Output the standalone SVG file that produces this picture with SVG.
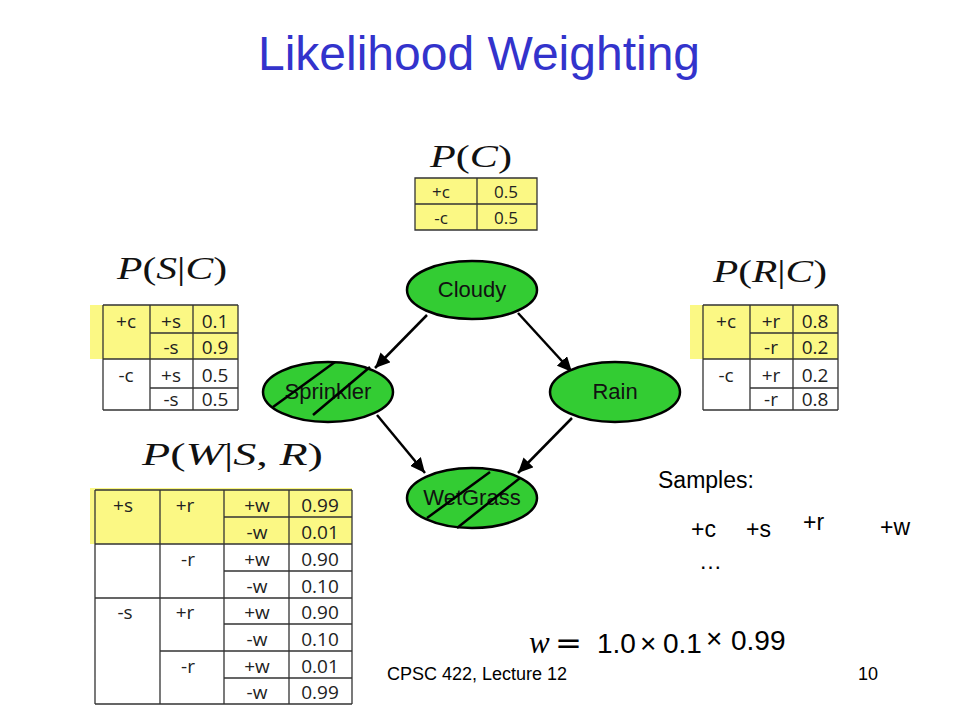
<svg xmlns="http://www.w3.org/2000/svg" width="960" height="720" viewBox="0 0 960 720">
<style>
.title{font-family:"Liberation Sans",Arial,sans-serif;font-size:48px;fill:#3333CC}
.math{font-family:"Liberation Serif","Times New Roman",serif;font-size:31px;fill:#111}
.it{font-style:italic}
.t{font-family:"Open Sans","Noto Sans",sans-serif;font-size:19px;fill:#222;text-anchor:middle}
.tc{font-family:"Open Sans","Noto Sans",sans-serif;font-size:17px;fill:#222;text-anchor:middle}
.yl{fill:#FBF884}
.gl{stroke:#333;stroke-width:1.3;fill:none}
.node ellipse{fill:#33CC33;stroke:#000;stroke-width:2.5}
.node line{stroke:#000;stroke-width:2.5}
.lbl{font-family:"Liberation Sans",Arial,sans-serif;font-size:22px;fill:#111;text-anchor:middle}
.txt{font-family:"Liberation Sans",Arial,sans-serif;fill:#000}
.edge{stroke:#000;stroke-width:2.5;fill:none;marker-end:url(#ah)}
</style>
<defs>
<marker id="ah" markerUnits="userSpaceOnUse" markerWidth="16" markerHeight="14" refX="15" refY="7" orient="auto">
<path d="M0,0 L15,7 L0,14 z" fill="#000"/>
</marker>
</defs>
<rect width="960" height="720" fill="#fff"/>
<text class="title" x="479" y="70" text-anchor="middle">Likelihood Weighting</text>

<!-- P(C) -->
<g id="tableC">
<text class="math" x="430" y="167" textLength="82" lengthAdjust="spacingAndGlyphs"><tspan class="it">P</tspan>(<tspan class="it">C</tspan>)</text>
<rect class="yl" x="415" y="178" width="122" height="52"/>
<path class="gl" d="M415,178H537V230H415Z M477,178V230 M415,204H537"/>
<text class="tc" x="441" y="198">+c</text><text class="tc" x="506" y="198">0.5</text>
<text class="tc" x="441" y="224">-c</text><text class="tc" x="506" y="224">0.5</text>
</g>

<!-- P(S|C) -->
<g id="tableS">
<text class="math" x="117" y="279" textLength="110" lengthAdjust="spacingAndGlyphs"><tspan class="it">P</tspan>(<tspan class="it">S</tspan>|<tspan class="it">C</tspan>)</text>
<rect class="yl" x="90" y="305" width="148" height="54"/>
<path class="gl" d="M103,305V410 M150,305V410 M193,305V410 M238,305V410 M103,305H238 M150,333H238 M103,359H238 M150,388H238 M103,410H238"/>
<text class="t" x="126" y="328">+c</text><text class="t" x="171" y="328">+s</text><text class="t" x="215" y="328">0.1</text>
<text class="t" x="171" y="354">-s</text><text class="t" x="215" y="354">0.9</text>
<text class="t" x="126" y="382">-c</text><text class="t" x="171" y="382">+s</text><text class="t" x="215" y="382">0.5</text>
<text class="t" x="171" y="406">-s</text><text class="t" x="215" y="406">0.5</text>
</g>

<!-- P(R|C) -->
<g id="tableR">
<text class="math" x="713" y="282" textLength="114" lengthAdjust="spacingAndGlyphs"><tspan class="it">P</tspan>(<tspan class="it">R</tspan>|<tspan class="it">C</tspan>)</text>
<rect class="yl" x="690" y="305" width="148" height="54"/>
<path class="gl" d="M703,305V410 M750,305V410 M793,305V410 M838,305V410 M703,305H838 M750,333H838 M703,359H838 M750,388H838 M703,410H838"/>
<text class="t" x="726" y="328">+c</text><text class="t" x="771" y="328">+r</text><text class="t" x="815" y="328">0.8</text>
<text class="t" x="771" y="354">-r</text><text class="t" x="815" y="354">0.2</text>
<text class="t" x="726" y="382">-c</text><text class="t" x="771" y="382">+r</text><text class="t" x="815" y="382">0.2</text>
<text class="t" x="771" y="406">-r</text><text class="t" x="815" y="406">0.8</text>
</g>

<!-- P(W|S,R) -->
<g id="tableW">
<text class="math" x="142" y="465" textLength="181" lengthAdjust="spacingAndGlyphs"><tspan class="it">P</tspan>(<tspan class="it">W</tspan>|<tspan class="it">S</tspan>, <tspan class="it">R</tspan>)</text>
<rect class="yl" x="90" y="488" width="262" height="56"/>
<path class="gl" d="M95,490V704 M160,490V704 M224,490V704 M289,490V704 M352,490V704 M95,490H352 M224,517H352 M95,544H352 M224,571H352 M95,598H352 M224,624H352 M160,651H352 M224,678H352 M95,704H352"/>
<text class="t" x="123" y="512">+s</text><text class="t" x="185" y="512">+r</text><text class="t" x="257" y="512">+w</text><text class="t" x="320" y="512">0.99</text>
<text class="t" x="257" y="539">-w</text><text class="t" x="320" y="539">0.01</text>
<text class="t" x="188" y="566">-r</text><text class="t" x="257" y="566">+w</text><text class="t" x="320" y="566">0.90</text>
<text class="t" x="257" y="593">-w</text><text class="t" x="320" y="593">0.10</text>
<text class="t" x="125" y="619">-s</text><text class="t" x="185" y="619">+r</text><text class="t" x="257" y="619">+w</text><text class="t" x="320" y="619">0.90</text>
<text class="t" x="257" y="646">-w</text><text class="t" x="320" y="646">0.10</text>
<text class="t" x="188" y="673">-r</text><text class="t" x="257" y="673">+w</text><text class="t" x="320" y="673">0.01</text>
<text class="t" x="257" y="699">-w</text><text class="t" x="320" y="699">0.99</text>
</g>

<!-- connectors -->
<g id="edges">
<line class="edge" x1="427" y1="315" x2="375" y2="368"/>
<line class="edge" x1="518" y1="313" x2="572" y2="372"/>
<line class="edge" x1="377" y1="415" x2="425" y2="473"/>
<line class="edge" x1="572" y1="418" x2="518" y2="473"/>
</g>

<!-- nodes -->
<g id="cloudy" class="node">
<ellipse cx="472" cy="290" rx="65" ry="29"/>
<text class="lbl" x="472" y="297">Cloudy</text>
</g>
<g id="sprinkler" class="node">
<ellipse cx="328" cy="392" rx="65" ry="30"/>
<text class="lbl" x="328" y="399">Sprinkler</text>
<line x1="273" y1="407" x2="335" y2="362"/>
<line x1="313" y1="415" x2="370" y2="367"/>
</g>
<g id="rain" class="node">
<ellipse cx="615" cy="392" rx="65" ry="30"/>
<text class="lbl" x="615" y="399">Rain</text>
</g>
<g id="wetgrass" class="node">
<ellipse cx="472" cy="498" rx="65" ry="30"/>
<text class="lbl" x="472" y="505">WetGrass</text>
<line x1="427" y1="518" x2="490" y2="472"/>
<line x1="457" y1="528" x2="520" y2="478"/>
</g>

<!-- samples -->
<g id="samples" class="txt">
<text x="658" y="488" font-size="23">Samples:</text>
<text x="691" y="537" font-size="23">+c</text>
<text x="746" y="537" font-size="23">+s</text>
<text x="803" y="530" font-size="23">+r</text>
<text x="880" y="535" font-size="23">+w</text>
<text x="699" y="569" font-size="23">…</text>
</g>

<!-- formula -->
<g id="formula">
<text x="529" y="653" font-family="Liberation Serif,serif" font-style="italic" font-size="31">w</text>
<text x="555" y="653" font-family="DejaVu Sans,sans-serif" font-size="30" textLength="27" lengthAdjust="spacingAndGlyphs">=</text>
<text x="597" y="653" font-family="Liberation Sans,sans-serif" font-size="28">1.0</text>
<text x="640" y="653" font-family="Liberation Sans,sans-serif" font-size="28">×</text>
<text x="663" y="653" font-family="Liberation Sans,sans-serif" font-size="28">0.1</text>
<text x="706" y="648" font-family="Liberation Sans,sans-serif" font-size="28">×</text>
<text x="731" y="650" font-family="Liberation Sans,sans-serif" font-size="28">0.99</text>
</g>

<text class="txt" x="387" y="680" font-size="18">CPSC 422, Lecture 12</text>
<text class="txt" x="858" y="680" font-size="18">10</text>
</svg>
